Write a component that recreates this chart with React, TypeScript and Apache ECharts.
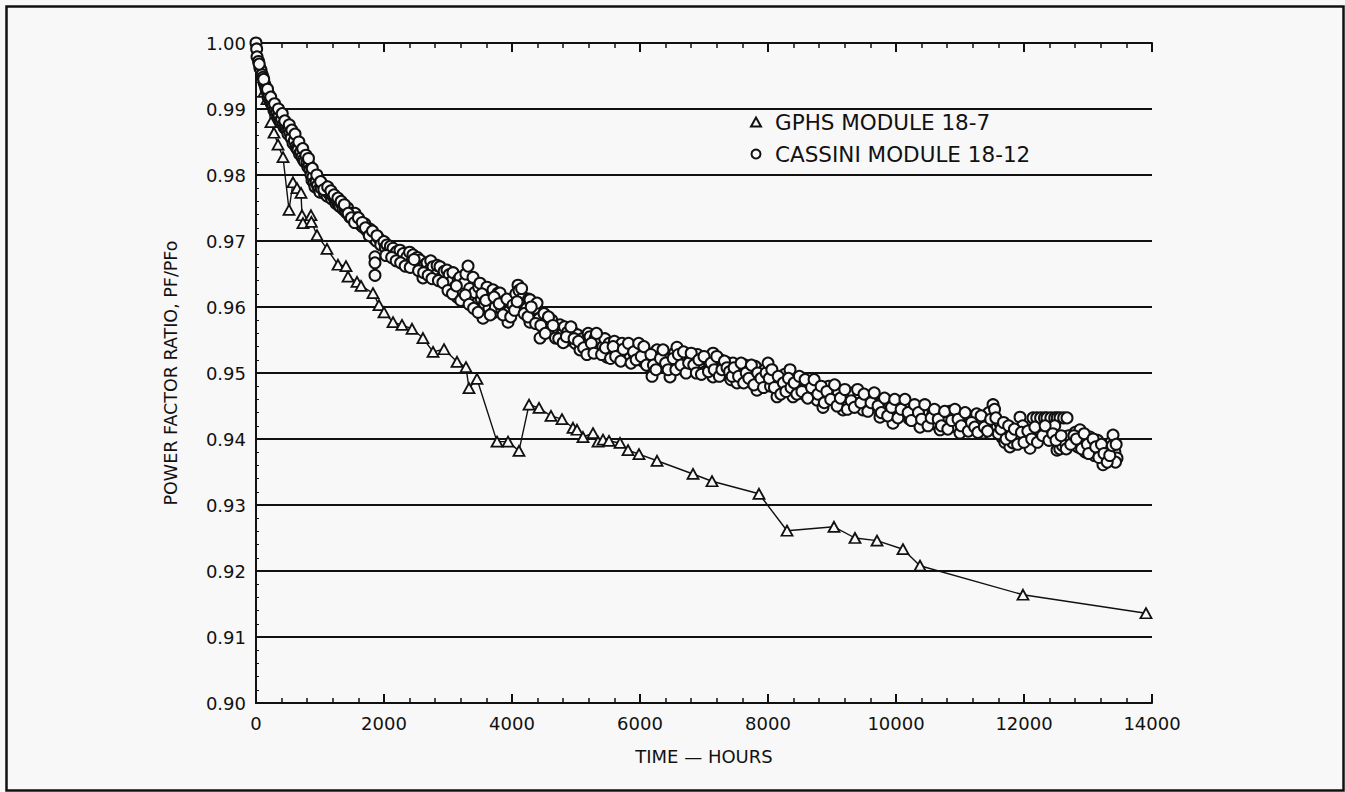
import React, { useEffect, useRef } from "react";
import * as echarts from "echarts";

// ---- Axis ticks ----
const xTicks = [0, 2000, 4000, 6000, 8000, 10000, 12000, 14000];
const yTicks = [0.9, 0.91, 0.92, 0.93, 0.94, 0.95, 0.96, 0.97, 0.98, 0.99, 1.0];

// ---- GPHS MODULE 18-7 (triangles, connected) ----
const gphsHours = [
  125, 172, 234, 281, 344, 422, 516, 578, 641, 703, 719, 734, 859, 865, 953, 1109, 1281, 1406, 1438, 1578, 1641,
  1828, 1922, 2000, 2141, 2281, 2438, 2609, 2766, 2938, 3141, 3281, 3328, 3453, 3766, 3938, 4109, 4266, 4422,
  4609, 4781, 4953, 5016, 5109, 5266, 5344, 5422, 5516, 5688, 5813, 5984, 6266, 6828, 7125, 7859, 8297, 9031,
  9359, 9703, 10109, 10375, 11984, 13906,
];
const gphsValues = [
  0.9926, 0.9915, 0.988, 0.9864, 0.9846, 0.9827, 0.9747, 0.9789, 0.978, 0.9773, 0.9739, 0.9727, 0.9739, 0.9729,
  0.9709, 0.9688, 0.9664, 0.9662, 0.9646, 0.9638, 0.9632, 0.9621, 0.9603, 0.9592, 0.9577, 0.9573, 0.9567,
  0.9553, 0.9532, 0.9536, 0.9517, 0.9509, 0.9477, 0.9491, 0.9396, 0.9396, 0.9382, 0.9452, 0.9447, 0.9435,
  0.943, 0.9417, 0.9414, 0.9403, 0.9409, 0.9396, 0.9399, 0.9397, 0.9394, 0.9383, 0.9377, 0.9367, 0.9347,
  0.9336, 0.9317, 0.9261, 0.9267, 0.925, 0.9246, 0.9233, 0.9208, 0.9164, 0.9136,
];

// ---- CASSINI MODULE 18-12 (open circles) ----
const cassiniA: [number, number][] = [
  [0, 1.0], [10, 0.9991], [16, 0.9979], [40, 0.9972], [60, 0.9962], [78, 0.9959], [95, 0.9952], [109, 0.9948],
  [125, 0.994], [141, 0.9936], [155, 0.9931], [172, 0.9926], [188, 0.9918], [200, 0.9922], [220, 0.9912],
  [240, 0.9908], [266, 0.9905], [280, 0.9898], [300, 0.99], [328, 0.9895], [344, 0.9888], [360, 0.989],
  [380, 0.9882], [400, 0.9885], [422, 0.9876], [440, 0.9872], [460, 0.987], [484, 0.9868], [500, 0.9862],
  [510, 0.987], [531, 0.9864], [550, 0.9856], [578, 0.9848], [600, 0.9852], [620, 0.9843], [640, 0.984],
  [656, 0.9838], [680, 0.9832], [700, 0.9835], [719, 0.9827], [740, 0.9823], [760, 0.982], [797, 0.9818],
  [810, 0.9812], [830, 0.9815], [844, 0.9808], [860, 0.98], [875, 0.9792], [890, 0.9797], [905, 0.9788],
  [922, 0.9782], [940, 0.979], [960, 0.9784], [980, 0.9778], [1000, 0.9774], [1020, 0.978], [1047, 0.9785],
  [1070, 0.9772], [1090, 0.9776], [1110, 0.9768], [1130, 0.9773], [1156, 0.977], [1180, 0.9764], [1200, 0.9768],
  [1234, 0.9762], [1250, 0.9757], [1270, 0.976], [1290, 0.9754], [1313, 0.9752], [1340, 0.9756], [1360, 0.9748],
  [1391, 0.9747], [1410, 0.9743], [1430, 0.975], [1450, 0.974], [1469, 0.9736], [1500, 0.9742], [1520, 0.9733],
  [1547, 0.9742], [1570, 0.9735], [1594, 0.9729], [1620, 0.9731], [1640, 0.9724], [1672, 0.9721], [1700, 0.9726],
  [1720, 0.9717], [1750, 0.9714], [1780, 0.9718], [1800, 0.971], [1828, 0.9709], [1850, 0.9703], [1859, 0.9676],
  [1859, 0.9667], [1859, 0.9648], [1880, 0.97], [1900, 0.9706], [1938, 0.9702], [1960, 0.9697],
  [50, 0.9968], [120, 0.9945], [180, 0.993], [230, 0.9918], [290, 0.9908], [350, 0.99], [410, 0.9893],
  [450, 0.9882], [520, 0.9876], [560, 0.9868], [610, 0.9862], [670, 0.985], [730, 0.984], [780, 0.983],
  [820, 0.9825], [880, 0.981], [950, 0.98], [1010, 0.979], [1060, 0.9778], [1120, 0.9782], [1170, 0.9776],
  [1220, 0.977], [1280, 0.9765], [1330, 0.976], [1380, 0.9755], [1440, 0.9742], [1490, 0.9735], [1540, 0.9728],
  [1600, 0.9735], [1660, 0.9728], [1710, 0.972], [1770, 0.9708], [1820, 0.9715], [1890, 0.9708], [1950, 0.9694],
];
const cassiniB: [number, number][] = [
  [2000, 0.9699], [2020, 0.969], [2047, 0.9694], [2080, 0.9685], [2100, 0.9692], [2141, 0.9689], [2170, 0.968],
  [2200, 0.9684], [2250, 0.9686], [2280, 0.9676], [2300, 0.9681], [2340, 0.9672], [2359, 0.9676], [2400, 0.9683],
  [2430, 0.9668], [2453, 0.9679], [2480, 0.9664], [2520, 0.9675], [2563, 0.9671], [2590, 0.9659], [2609, 0.9644],
  [2640, 0.9664], [2672, 0.9667], [2700, 0.9655], [2730, 0.967], [2766, 0.9661], [2800, 0.9648], [2830, 0.9663],
  [2875, 0.9661], [2900, 0.9645], [2940, 0.9654], [2984, 0.9656], [2984, 0.9633], [3020, 0.9649], [3050, 0.9638],
  [3078, 0.9652], [3110, 0.963], [3141, 0.9615], [3160, 0.9641], [3188, 0.9645], [3220, 0.9625], [3250, 0.9636],
  [3280, 0.965], [3313, 0.9662], [3340, 0.9628], [3360, 0.9617], [3391, 0.9645], [3420, 0.9622], [3453, 0.9606],
  [3480, 0.963], [3500, 0.9636], [3520, 0.9612], [3547, 0.9583], [3570, 0.9605], [3609, 0.963], [3640, 0.9598],
  [3670, 0.9614], [3703, 0.9626], [3703, 0.9591], [3740, 0.96], [3760, 0.9612], [3781, 0.9621], [3813, 0.9621],
  [3840, 0.9596], [3870, 0.9608], [3900, 0.96], [3938, 0.9577], [3960, 0.9594], [3990, 0.9605],
  [2030, 0.9678], [2120, 0.9675], [2190, 0.967], [2260, 0.9667], [2330, 0.9662], [2410, 0.966], [2470, 0.9672],
  [2540, 0.9655], [2620, 0.9652], [2690, 0.9648], [2750, 0.9643], [2850, 0.964], [2920, 0.9637], [3000, 0.9625],
  [3070, 0.962], [3130, 0.9632], [3200, 0.961], [3270, 0.9618], [3330, 0.9604], [3400, 0.9598], [3470, 0.9592],
  [3530, 0.962], [3590, 0.961], [3660, 0.9588], [3720, 0.9615], [3800, 0.9605], [3860, 0.9588], [3920, 0.9612],
  [3980, 0.9585],
];
const cassiniC: [number, number][] = [
  [4016, 0.9603], [4060, 0.962], [4094, 0.9633], [4110, 0.9625], [4140, 0.961], [4172, 0.9615], [4200, 0.9605],
  [4230, 0.9598], [4260, 0.9612], [4281, 0.9611], [4281, 0.9577], [4320, 0.9588], [4350, 0.9598], [4391, 0.9606],
  [4420, 0.9582], [4438, 0.9553], [4470, 0.957], [4500, 0.959], [4540, 0.9575], [4594, 0.9565], [4620, 0.958],
  [4660, 0.956], [4700, 0.9568], [4750, 0.9573], [4780, 0.9558], [4820, 0.957], [4870, 0.9562], [4900, 0.955],
  [4953, 0.9562], [4990, 0.9545], [5020, 0.9558], [5063, 0.9535], [5100, 0.9552], [5150, 0.9545], [5190, 0.956],
  [5219, 0.9555], [5260, 0.954], [5300, 0.9553], [5340, 0.9535], [5375, 0.9547], [5420, 0.954], [5450, 0.9552],
  [5484, 0.9524], [5520, 0.9545], [5560, 0.9532], [5600, 0.9548], [5641, 0.9539], [5680, 0.9528], [5720, 0.9545],
  [5760, 0.953], [5797, 0.9535], [5840, 0.9522], [5880, 0.954], [5920, 0.9527], [5960, 0.9536], [6000, 0.953],
  [6040, 0.9518], [6080, 0.9533], [6120, 0.9522], [6150, 0.951], [6188, 0.9495], [6230, 0.9525], [6266, 0.9535],
  [6300, 0.9515], [6340, 0.9528], [6380, 0.9508], [6420, 0.952], [6469, 0.9494], [6500, 0.9512], [6540, 0.953],
  [6578, 0.9539], [6620, 0.9518], [6660, 0.9506], [6700, 0.9525], [6740, 0.9512], [6781, 0.9524], [6820, 0.9505],
  [6860, 0.9518], [6900, 0.9528], [6940, 0.9508], [6980, 0.9515], [7020, 0.9502], [7047, 0.952], [7090, 0.951],
  [7141, 0.953], [7141, 0.9494], [7180, 0.9515], [7220, 0.9503], [7260, 0.952], [7297, 0.9512], [7340, 0.9498],
  [7380, 0.9515], [7420, 0.949], [7453, 0.9515], [7490, 0.95], [7516, 0.9485], [7560, 0.9508], [7600, 0.9495],
  [7640, 0.9512], [7680, 0.9488], [7719, 0.9505], [7760, 0.9493], [7800, 0.951], [7828, 0.9474], [7870, 0.9498],
  [7910, 0.9485], [7950, 0.9505], [7980, 0.949],
  [4040, 0.9595], [4080, 0.9608], [4150, 0.9628], [4190, 0.959], [4250, 0.9585], [4300, 0.96], [4370, 0.9575],
  [4450, 0.9572], [4520, 0.956], [4570, 0.9585], [4640, 0.9572], [4680, 0.9553], [4730, 0.9552], [4800, 0.9546],
  [4850, 0.9555], [4920, 0.957], [4970, 0.9552], [5040, 0.9548], [5120, 0.9538], [5170, 0.9528], [5240, 0.9545],
  [5280, 0.953], [5320, 0.956], [5400, 0.9528], [5460, 0.9538], [5540, 0.9522], [5580, 0.954], [5620, 0.9525],
  [5700, 0.9518], [5740, 0.9536], [5820, 0.9545], [5860, 0.9515], [5900, 0.9532], [5940, 0.952], [5980, 0.9545],
  [6020, 0.9525], [6060, 0.954], [6100, 0.9512], [6170, 0.9528], [6210, 0.9512], [6250, 0.9505], [6320, 0.9522],
  [6360, 0.9535], [6400, 0.9515], [6440, 0.9505], [6520, 0.9522], [6560, 0.9505], [6600, 0.9528], [6640, 0.9512],
  [6680, 0.9532], [6720, 0.95], [6760, 0.9515], [6800, 0.953], [6840, 0.9512], [6880, 0.95], [6920, 0.952],
  [6960, 0.9498], [7000, 0.9525], [7070, 0.9502], [7110, 0.9515], [7160, 0.9505], [7200, 0.9525], [7240, 0.9495],
  [7280, 0.9505], [7320, 0.9518], [7360, 0.9508], [7400, 0.9502], [7440, 0.9495], [7470, 0.9508], [7540, 0.9495],
  [7580, 0.9515], [7620, 0.9485], [7660, 0.95], [7700, 0.9492], [7740, 0.9512], [7780, 0.9482], [7840, 0.95],
  [7890, 0.9492], [7930, 0.9478], [7970, 0.95],
];
const cassiniD: [number, number][] = [
  [8000, 0.9515], [8040, 0.948], [8080, 0.9495], [8141, 0.9464], [8180, 0.9488], [8220, 0.9475], [8260, 0.9498],
  [8300, 0.9482], [8344, 0.9505], [8391, 0.9464], [8430, 0.949], [8470, 0.9475], [8510, 0.9485], [8560, 0.9468],
  [8600, 0.948], [8656, 0.9485], [8700, 0.9465], [8740, 0.9478], [8766, 0.9459], [8800, 0.9472], [8859, 0.9448],
  [8900, 0.9466], [8950, 0.948], [9016, 0.9474], [9060, 0.9458], [9100, 0.947], [9172, 0.9444], [9220, 0.9462],
  [9260, 0.9452], [9328, 0.947], [9370, 0.9455], [9420, 0.9466], [9484, 0.9444], [9530, 0.946], [9580, 0.945],
  [9641, 0.9464], [9690, 0.9448], [9750, 0.9433], [9790, 0.9458], [9840, 0.9445], [9900, 0.9455], [9953, 0.9424],
  [10000, 0.9448], [10063, 0.9455], [10110, 0.9438], [10160, 0.945], [10210, 0.943], [10266, 0.9444],
  [10320, 0.9435], [10375, 0.9418], [10420, 0.9445], [10470, 0.9428], [10520, 0.944], [10578, 0.9439],
  [10630, 0.9422], [10688, 0.9414], [10730, 0.9435], [10780, 0.9425], [10840, 0.9442], [10891, 0.9439],
  [10940, 0.9418], [11000, 0.9409], [11050, 0.943], [11100, 0.942], [11156, 0.9433], [11200, 0.9415],
  [11260, 0.9438], [11310, 0.9425], [11359, 0.9409], [11400, 0.9428], [11450, 0.944], [11516, 0.9452],
  [11540, 0.9445], [11580, 0.9418], [11625, 0.9424], [11660, 0.9402], [11700, 0.9395], [11740, 0.941],
  [11780, 0.9388], [11828, 0.9394], [11880, 0.9405], [11938, 0.9433], [11980, 0.942], [12030, 0.9398],
  [12094, 0.9386], [12141, 0.9432], [12200, 0.9432], [12260, 0.9432], [12320, 0.9432], [12359, 0.9432],
  [12420, 0.9432], [12480, 0.9432], [12520, 0.9432], [12563, 0.9432], [12620, 0.9432], [12672, 0.9432],
  [12250, 0.9412], [12359, 0.9409], [12420, 0.9415], [12480, 0.942], [12516, 0.9383], [12560, 0.9385],
  [12600, 0.939], [12640, 0.9395], [12700, 0.9405], [12766, 0.9394], [12800, 0.941], [12840, 0.9388],
  [12875, 0.9414], [12920, 0.9398], [12960, 0.938], [13031, 0.9403], [13060, 0.939], [13100, 0.9375],
  [13150, 0.9398], [13188, 0.9383], [13234, 0.9361], [13280, 0.9372], [13320, 0.9385], [13360, 0.9395],
  [13391, 0.9406], [13420, 0.938], [13453, 0.9371], [13430, 0.9365],
  [8020, 0.9492], [8060, 0.9505], [8100, 0.9478], [8160, 0.9495], [8200, 0.9468], [8240, 0.9485], [8280, 0.9472],
  [8320, 0.9492], [8360, 0.9478], [8410, 0.9485], [8450, 0.9468], [8490, 0.9495], [8530, 0.9472], [8580, 0.949],
  [8620, 0.9462], [8680, 0.9478], [8720, 0.949], [8780, 0.9468], [8830, 0.948], [8880, 0.9455], [8920, 0.9472],
  [8980, 0.946], [9040, 0.9482], [9080, 0.945], [9130, 0.9462], [9200, 0.9475], [9240, 0.9445], [9300, 0.9458],
  [9350, 0.9448], [9400, 0.9475], [9450, 0.9455], [9500, 0.9468], [9560, 0.9442], [9610, 0.9455], [9660, 0.947],
  [9720, 0.945], [9770, 0.944], [9820, 0.9462], [9870, 0.9435], [9930, 0.9448], [9980, 0.946], [10030, 0.9432],
  [10080, 0.9445], [10140, 0.946], [10190, 0.944], [10240, 0.9428], [10290, 0.9452], [10350, 0.944],
  [10400, 0.943], [10450, 0.9452], [10500, 0.942], [10550, 0.9432], [10600, 0.9445], [10660, 0.943],
  [10710, 0.942], [10760, 0.9442], [10810, 0.9415], [10870, 0.9428], [10920, 0.9445], [10970, 0.943],
  [11020, 0.942], [11080, 0.944], [11130, 0.9412], [11180, 0.9425], [11230, 0.9418], [11280, 0.941],
  [11330, 0.9435], [11380, 0.9418], [11430, 0.9412], [11480, 0.943], [11560, 0.9432], [11600, 0.9408],
  [11640, 0.9415], [11680, 0.9425], [11720, 0.94], [11760, 0.942], [11800, 0.9405], [11850, 0.9415],
  [11900, 0.9392], [11960, 0.941], [12000, 0.9395], [12060, 0.9412], [12120, 0.94], [12170, 0.9418],
  [12210, 0.9395], [12290, 0.9405], [12330, 0.942], [12390, 0.9398], [12450, 0.9408], [12500, 0.9398],
  [12580, 0.9405], [12660, 0.9385], [12730, 0.9392], [12780, 0.9405], [12820, 0.94], [12900, 0.9385],
  [12940, 0.9408], [12990, 0.9392], [13010, 0.9378], [13080, 0.94], [13120, 0.9388], [13170, 0.9372],
  [13210, 0.9392], [13250, 0.9378], [13300, 0.9365], [13340, 0.9375], [13380, 0.939], [13440, 0.9392],
];

const FONT = "DejaVu Sans, Verdana, sans-serif";

export default function App() {
  const ref = useRef<HTMLDivElement>(null);
  useEffect(() => {
    if (!ref.current) return;
    const chart = echarts.init(ref.current, null, { renderer: "svg" });
    const gphs = gphsHours.map((h, i) => [h, gphsValues[i]]);
    const cassini = [...cassiniA, ...cassiniB, ...cassiniC, ...cassiniD];
    const black = "#111";
    const bg = "#f8f8f8";
    const baseX = {
      type: "value",
      min: xTicks[0],
      max: xTicks[xTicks.length - 1],
      interval: 2000,
      splitLine: { show: false },
      axisLine: { show: true, lineStyle: { color: black, width: 2 } },
      axisTick: { show: true, inside: true, length: 9, lineStyle: { color: black, width: 2 } },
      minorTick: { show: true, splitNumber: 5, length: 5, lineStyle: { color: black, width: 1.5 } },
    };
    chart.setOption({
      animation: false,
      backgroundColor: bg,
      grid: { left: 256, right: 193, top: 43, bottom: 89, containLabel: false },
      legend: {
        orient: "vertical",
        left: 745,
        top: 106,
        itemWidth: 10,
        itemHeight: 9,
        itemGap: 10,
        textStyle: { fontFamily: FONT, fontSize: 21.5, color: black, padding: [0, 0, 0, 9] },
        data: [
          { name: "GPHS MODULE 18-7", icon: "triangle" },
          { name: "CASSINI MODULE 18-12", icon: "circle" },
        ],
      },
      xAxis: [
        {
          ...baseX,
          position: "bottom",
          axisLabel: {
            color: black,
            fontFamily: FONT,
            fontSize: 18,
            margin: 11,
            formatter: (v: number) => String(v),
          },
          name: "TIME — HOURS",
          nameLocation: "middle",
          nameGap: 44,
          nameTextStyle: { color: black, fontFamily: FONT, fontSize: 18 },
        },
        {
          ...baseX,
          position: "top",
          axisLabel: { show: false },
        },
      ],
      yAxis: [
        {
          type: "value",
          min: yTicks[0],
          max: yTicks[yTicks.length - 1],
          interval: 0.01,
          axisLine: { show: true, lineStyle: { color: black, width: 2 } },
          axisTick: { show: false, inside: true },
          minorTick: { show: true, splitNumber: 5, length: 3, lineStyle: { color: black, width: 1 } },
          splitLine: { show: true, lineStyle: { color: black, width: 2 } },
          axisLabel: {
            color: black,
            fontFamily: FONT,
            fontSize: 18,
            margin: 10,
            formatter: (v: number) => v.toFixed(2),
          },
          name: "POWER FACTOR RATIO, PF/PFo",
          nameLocation: "middle",
          nameGap: 76,
          nameTextStyle: { color: black, fontFamily: FONT, fontSize: 17.5 },
        },
        {
          type: "value",
          position: "right",
          min: yTicks[0],
          max: yTicks[yTicks.length - 1],
          interval: 0.01,
          axisLine: { show: true, lineStyle: { color: black, width: 2 } },
          axisTick: { show: false },
          axisLabel: { show: false },
          splitLine: { show: false },
        },
      ],
      series: [
        {
          name: "GPHS MODULE 18-7",
          type: "line",
          data: gphs,
          symbol: "triangle",
          symbolSize: [11, 10],
          showAllSymbol: true,
          lineStyle: { color: black, width: 1.4 },
          itemStyle: { color: bg, borderColor: black, borderWidth: 1.8 },
          z: 3,
        },
        {
          name: "CASSINI MODULE 18-12",
          type: "scatter",
          data: cassini,
          symbol: "circle",
          symbolSize: 11,
          itemStyle: { color: bg, borderColor: black, borderWidth: 2, opacity: 1 },
          z: 4,
        },
      ],
      graphic: [
        {
          type: "rect",
          left: 4,
          top: 4,
          shape: { x: 0, y: 0, width: 1337, height: 784 },
          style: { fill: "none", stroke: black, lineWidth: 2.5 },
          silent: true,
        },
      ],
    });
    return () => chart.dispose();
  }, []);
  return (
    <div
      ref={ref}
      style={{ position: "absolute", left: 0, top: 0, width: 1345, height: 792, background: "#f8f8f8" }}
    />
  );
}
